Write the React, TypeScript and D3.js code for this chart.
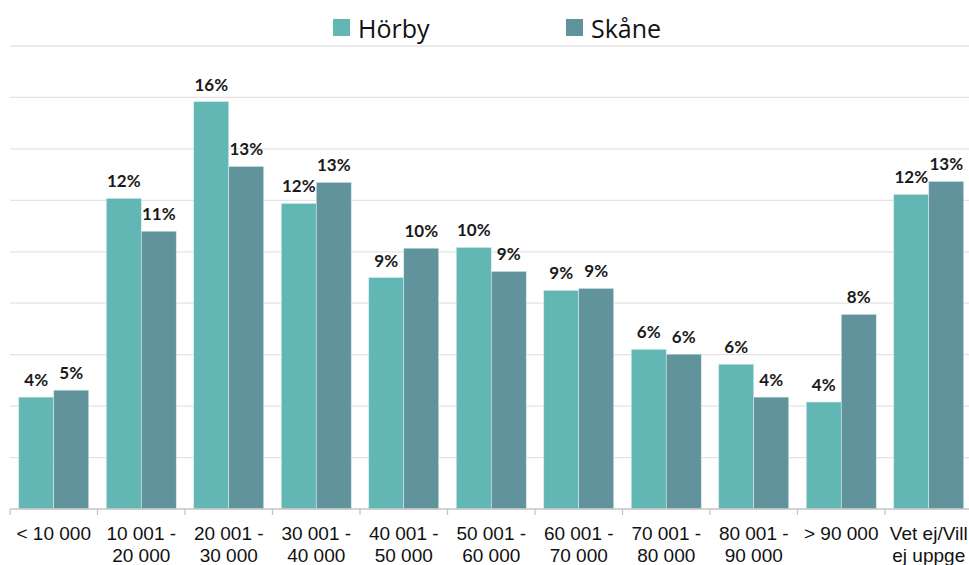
import React, { useEffect, useRef } from 'react';
import * as d3 from 'd3';

// Income brackets (line breaks as in the original axis)
const categories = [
  '< 10 000',
  '10 001 -\n20 000',
  '20 001 -\n30 000',
  '30 001 -\n40 000',
  '40 001 -\n50 000',
  '50 001 -\n60 000',
  '60 001 -\n70 000',
  '70 001 -\n80 000',
  '80 001 -\n90 000',
  '> 90 000',
  'Vet ej/Vill\nej uppge',
];

const seriesNames = ['Hörby', 'Skåne'];
const horby = [4.35, 12.08, 15.84, 11.88, 9.0, 10.17, 8.5, 6.21, 5.63, 4.16, 12.23];
const skane = [4.62, 10.8, 13.32, 12.7, 10.14, 9.24, 8.58, 6.02, 4.35, 7.57, 12.74];
const colors = ['#62b7b5', '#61939d'];
const yTicks = [0, 2, 4, 6, 8, 10, 12, 14, 16, 18];

const W = 969;
const H = 565;

function App() {
  const svgRef = useRef<SVGSVGElement>(null);

  useEffect(() => {
    const svg = d3.select(svgRef.current);
    svg.selectAll('*').remove();

    const x = d3.scaleBand<string>()
      .domain(categories)
      .range([10, 10 + 87.5 * categories.length])
      .padding(0);

    const inner = d3.scaleBand<string>()
      .domain(seriesNames)
      .range([0, x.bandwidth()])
      .paddingInner(0)
      .paddingOuter(0.25);

    const y = d3.scaleLinear().domain([0, 18]).range([509, 46]);

    // gridlines
    svg.append('g')
      .selectAll('line')
      .data(yTicks.slice(1))
      .join('line')
      .attr('x1', 10)
      .attr('x2', W)
      .attr('y1', d => y(d))
      .attr('y2', d => y(d))
      .attr('stroke', '#e3e3e3')
      .attr('stroke-width', 1.3);

    const series = [horby, skane];

    // bars
    const groups = svg.append('g')
      .selectAll('g')
      .data(categories)
      .join('g')
      .attr('transform', d => `translate(${x(d)},0)`);

    groups.selectAll('rect')
      .data((d, i) => series.map((s, k) => ({ name: seriesNames[k], v: s[i], k })))
      .join('rect')
      .attr('x', d => inner(d.name)!)
      .attr('y', d => y(d.v))
      .attr('width', inner.bandwidth())
      .attr('height', d => y(0) - y(d.v))
      .attr('fill', d => colors[d.k])
      .attr('stroke', '#d8ecec')
      .attr('stroke-width', 0.6);

    groups.selectAll('text')
      .data((d, i) => series.map((s, k) => ({ name: seriesNames[k], v: s[i] })))
      .join('text')
      .attr('x', d => inner(d.name)! + inner.bandwidth() / 2)
      .attr('y', d => y(d.v) - 11)
      .attr('text-anchor', 'middle')
      .attr('font-family', 'Lato, "Open Sans", sans-serif')
      .attr('font-weight', 700)
      .attr('font-size', 17)
      .attr('fill', '#1a1a1a')
      .text(d => `${Math.round(d.v)}%`);

    // x axis
    const axis = svg.append('g').attr('transform', `translate(0,${y(0)})`);
    axis.append('line')
      .attr('x1', 10)
      .attr('x2', W)
      .attr('stroke', '#c4c4c4')
      .attr('stroke-width', 1.3);
    axis.selectAll('line.tick')
      .data(categories)
      .join('line')
      .attr('class', 'tick')
      .attr('x1', d => x(d)!)
      .attr('x2', d => x(d)!)
      .attr('y1', 0)
      .attr('y2', 6)
      .attr('stroke', '#c4c4c4')
      .attr('stroke-width', 1.3);

    const labels = axis.selectAll('text')
      .data(categories)
      .join('text')
      .attr('text-anchor', 'middle')
      .attr('font-family', '"Liberation Sans", Arial, sans-serif')
      .attr('font-size', 19)
      .attr('fill', '#111');
    labels.each(function (d) {
      const t = d3.select(this);
      d.split('\n').forEach((line, i) => {
        t.append('tspan')
          .attr('x', x(d)! + x.bandwidth() / 2)
          .attr('y', 31 + i * 22)
          .text(line);
      });
    });

    // legend
    const legendX = [333, 566];
    const legend = svg.append('g')
      .selectAll('g')
      .data(seriesNames)
      .join('g')
      .attr('transform', (d, i) => `translate(${legendX[i]},19)`);
    legend.append('rect')
      .attr('width', 17)
      .attr('height', 17)
      .attr('fill', (d, i) => colors[i]);
    legend.append('text')
      .attr('x', 25)
      .attr('y', 19)
      .attr('font-family', '"Open Sans", "Noto Sans", sans-serif')
      .attr('font-size', 25)
      .attr('fill', '#111')
      .text(d => d);
  }, []);

  return (
    <svg
      ref={svgRef}
      width={W}
      height={H}
      style={{ position: 'absolute', left: 0, top: 0, background: '#fff' }}
    />
  );
}

export default App;
